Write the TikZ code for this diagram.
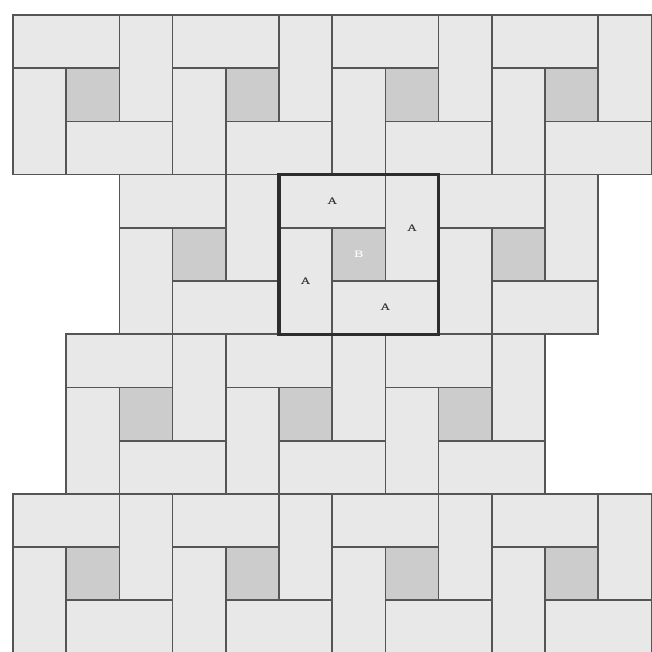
\documentclass[tikz,border=0pt]{standalone}
\usepackage{tikz}

\definecolor{gris}{RGB}{232,232,232}
\definecolor{grisoscuro}{RGB}{204,204,204}
\definecolor{borde}{RGB}{85,85,85}
\definecolor{marcocolor}{RGB}{45,45,45}

\tikzset{
	baldosa/.style={fill=gris, draw=borde, line width=0.9pt},
	centro/.style={fill=grisoscuro, draw=borde, line width=0.9pt},
	marco/.style={draw=marcocolor, line width=1.8pt},
	letra/.style={font=\tiny\bfseries, text=black!80}
}

% molinete: cuatro barras de 2x1 alrededor de un cuadrado 1x1
\newcommand{\molinete}[2]{%
	\draw[baldosa] (#1,#2) rectangle ++(2,-1);
	\draw[baldosa] (#1+2,#2) rectangle ++(1,-2);
	\draw[baldosa] (#1+1,#2-2) rectangle ++(2,-1);
	\draw[baldosa] (#1,#2-1) rectangle ++(1,-2);
	\draw[centro] (#1+1,#2-1) rectangle ++(1,-1);
}

\begin{document}
\begin{tikzpicture}
		\clip (-0.244,-11.955) rectangle (12.01,0.282);
		%Fila 1
		\molinete{0}{0}
		\molinete{3}{0}
		\molinete{6}{0}
		\molinete{9}{0}
		%Fila 2
		\molinete{2}{-3}
		\molinete{5}{-3}
		\molinete{8}{-3}
		%Fila 3
		\molinete{1}{-6}
		\molinete{4}{-6}
		\molinete{7}{-6}
		%Fila 4
		\molinete{0}{-9}
		\molinete{3}{-9}
		\molinete{6}{-9}
		\molinete{9}{-9}
		
		%Cuadrado marcado
		\draw[marco] (5,-3) rectangle (8,-6);
		%Letras
		\node[letra](aArriba) at (6,-3.5) {A};
		\node[letra](aDerecha) at (7.5,-4) {A};
		\node[letra](aIzquierda) at (5.5,-5) {A};
		\node[letra](aAbajo) at (7,-5.5) {A};
		\node[letra, text=white](bCentro) at (6.5,-4.5) {B};
		
	\end{tikzpicture}
\end{document}
